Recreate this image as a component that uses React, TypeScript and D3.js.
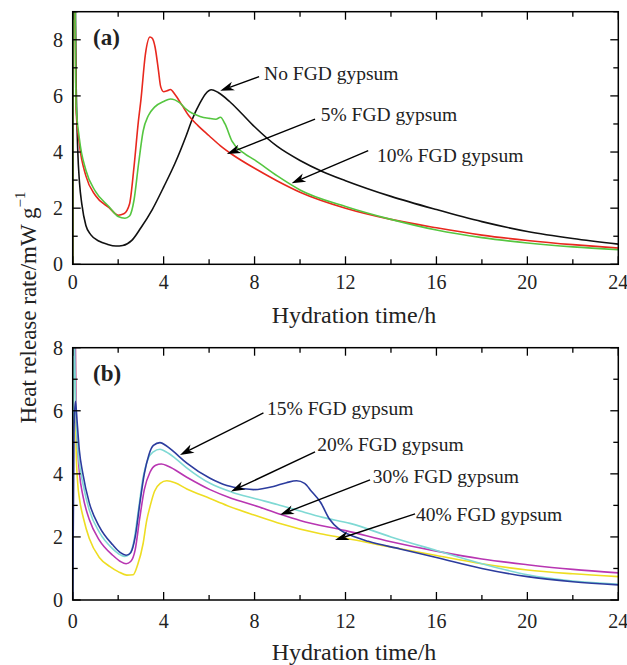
import React from "react";
import * as d3 from "d3";

type Pt = [number, number];

// ---------- Panel (a) data ----------
const noFGD: Pt[] = [[0,0],[0.06,14],[0.15,6.5],[0.22,4.1],[0.3,2.9],[0.4,2.15],[0.58,1.38],[0.8,1.05],[1.17,0.82],[1.5,0.72],[1.9,0.65],[2.2,0.67],[2.6,0.85],[3.0,1.3],[3.5,1.95],[4.0,2.75],[4.5,3.6],[5.0,4.6],[5.25,5.15],[5.6,5.75],[5.85,6.08],[6.1,6.22],[6.4,6.12],[6.9,5.8],[7.4,5.4],[8.0,4.9],[9,4.2],[10,3.7],[11,3.3],[12,2.98],[14,2.42],[16,1.95],[18,1.52],[20,1.17],[22,0.92],[24,0.72]];
const fgd5: Pt[] = [[0,0],[0.05,14],[0.15,5.5],[0.29,4.3],[0.58,3.15],[1.0,2.45],[1.6,2.02],[2.0,1.75],[2.25,1.8],[2.5,2.15],[2.7,3.5],[2.89,5.1],[3.0,5.85],[3.2,7.5],[3.4,8.1],[3.5,8.05],[3.62,7.75],[3.77,6.92],[3.87,6.33],[4.0,6.15],[4.15,6.18],[4.3,6.23],[4.5,6.05],[4.8,5.68],[5.1,5.3],[5.5,4.95],[6.0,4.58],[6.5,4.22],[7.0,3.92],[8.0,3.42],[9,2.97],[10,2.57],[12,2.0],[14,1.6],[16,1.3],[18,1.04],[20,0.85],[22,0.7],[24,0.58]];
const fgd10: Pt[] = [[0,0],[0.05,14],[0.15,5.7],[0.29,4.5],[0.58,3.35],[1.0,2.6],[1.6,2.05],[2.0,1.7],[2.3,1.64],[2.5,1.72],[2.7,2.3],[2.9,3.6],[3.1,4.75],[3.33,5.3],[3.6,5.6],[4.0,5.8],[4.3,5.89],[4.7,5.76],[5.0,5.52],[5.6,5.27],[6.0,5.2],[6.3,5.17],[6.5,5.24],[6.7,5.0],[7.0,4.4],[7.5,3.98],[8.0,3.72],[9,3.15],[10,2.65],[12,2.06],[14,1.6],[16,1.22],[18,0.95],[20,0.76],[22,0.62],[24,0.52]];

// ---------- Panel (b) data ----------
const fgd15: Pt[] = [[0,0],[0.06,5.5],[0.12,6.3],[0.2,5.6],[0.29,4.76],[0.44,4.03],[0.73,3.08],[1.17,2.33],[1.76,1.75],[2.1,1.5],[2.35,1.42],[2.55,1.5],[2.75,2.0],[2.96,3.1],[3.15,4.0],[3.35,4.6],[3.55,4.9],[3.84,4.99],[4.1,4.9],[4.43,4.71],[5.02,4.34],[6.04,3.86],[6.78,3.63],[7.5,3.53],[7.95,3.5],[8.83,3.6],[9.4,3.72],[9.85,3.78],[10.2,3.7],[10.5,3.45],[10.9,3.1],[11.3,2.56],[11.76,2.22],[12.2,2.06],[13,1.86],[14.4,1.62],[16,1.35],[18,1.0],[20,0.74],[22,0.58],[24,0.48]];
const fgd20: Pt[] = [[0,0],[0.06,9],[0.12,6.5],[0.2,5.0],[0.29,4.35],[0.44,3.72],[0.73,2.85],[1.17,2.15],[1.76,1.62],[2.1,1.43],[2.3,1.38],[2.5,1.45],[2.7,1.9],[2.9,2.9],[3.1,3.9],[3.3,4.45],[3.55,4.7],[3.84,4.78],[4.1,4.7],[4.5,4.5],[5.0,4.2],[6.04,3.7],[7.0,3.42],[8.0,3.22],[9,3.03],[10,2.82],[11,2.62],[12.2,2.43],[14,2.0],[16,1.57],[18,1.15],[20,0.8],[22,0.6],[24,0.5]];
const fgd30: Pt[] = [[0,0],[0.06,12],[0.15,6.0],[0.22,4.8],[0.3,4.0],[0.45,3.3],[0.73,2.55],[1.17,1.9],[1.76,1.42],[2.1,1.22],[2.35,1.15],[2.55,1.22],[2.75,1.6],[2.95,2.6],[3.15,3.5],[3.4,4.05],[3.65,4.27],[3.9,4.31],[4.2,4.24],[5.0,3.9],[6.04,3.5],[7,3.22],[8,3.0],[9.12,2.72],[10,2.52],[12,2.2],[14,1.85],[16,1.55],[18,1.3],[20,1.12],[22,0.97],[24,0.86]];
const fgd40: Pt[] = [[0,0],[0.06,12],[0.15,4.8],[0.22,3.7],[0.3,3.2],[0.47,2.6],[0.73,1.95],[1.17,1.35],[1.64,1.06],[2.0,0.9],[2.38,0.79],[2.66,0.8],[2.85,1.1],[3.1,1.8],[3.25,2.5],[3.4,2.96],[3.6,3.45],[3.85,3.7],[4.14,3.78],[4.5,3.72],[5.02,3.52],[6.04,3.22],[6.78,3.0],[7.95,2.7],[9,2.45],[10.9,2.1],[12,1.96],[14,1.68],[16,1.41],[18,1.15],[20,0.95],[22,0.83],[24,0.74]];

const xTicks = [0, 4, 8, 12, 16, 20, 24];
const xMinor = [2, 6, 10, 14, 18, 22];
const yTicksA = [0, 2, 4, 6, 8];
const yMinorA = [1, 3, 5, 7, 9];
const yTicksB = [0, 2, 4, 6, 8];
const yMinorB = [1, 3, 5, 7];

// annotations: label, text anchor [t, v], arrow start [t, v], arrow tip [t, v]
const annotA = [
  { label: "No FGD gypsum", text: [8.42, 6.57], from: [8.2, 6.69], to: [6.49, 6.18] },
  { label: "5% FGD gypsum", text: [10.91, 5.11], from: [10.66, 5.17], to: [6.78, 3.93] },
  { label: "10% FGD gypsum", text: [13.39, 3.66], from: [13.0, 4.05], to: [9.63, 2.89] },
];
const annotB = [
  { label: "15% FGD gypsum", text: [8.55, 5.87], from: [8.39, 5.93], to: [4.72, 4.6] },
  { label: "20% FGD gypsum", text: [10.76, 4.71], from: [10.66, 4.7], to: [6.96, 3.44] },
  { label: "30% FGD gypsum", text: [13.2, 3.7], from: [13.08, 3.81], to: [9.12, 2.7] },
  { label: "40% FGD gypsum", text: [15.1, 2.49], from: [15.06, 2.73], to: [11.54, 1.9] },
];

const seriesA = [
  { data: noFGD, color: "#111111" },
  { data: fgd5, color: "#e8281e" },
  { data: fgd10, color: "#55c640" },
];
const seriesB = [
  { data: fgd40, color: "#eedd22" },
  { data: fgd30, color: "#b836b2" },
  { data: fgd20, color: "#7fd9d4" },
  { data: fgd15, color: "#2c3c9e" },
];

const FONT = "'Liberation Serif', 'Times New Roman', serif";
const L = 72.7, R = 618.3;

function Arrow({ x1, y1, x2, y2 }: { x1: number; y1: number; x2: number; y2: number }) {
  const dx = x2 - x1, dy = y2 - y1;
  const len = Math.hypot(dx, dy);
  const ux = dx / len, uy = dy / len;
  const px = -uy, py = ux;
  const hl = 14, hw = 4.5, notch = 10;
  const bx = x2 - ux * hl, by = y2 - uy * hl;
  const nx = x2 - ux * notch, ny = y2 - uy * notch;
  const head = `M${x2},${y2} L${bx + px * hw},${by + py * hw} L${nx},${ny} L${bx - px * hw},${by - py * hw} Z`;
  return (
    <g>
      <line x1={x1} y1={y1} x2={nx} y2={ny} stroke="#000" strokeWidth={1.4} />
      <path d={head} fill="#000" />
    </g>
  );
}

function Panel({ top, bottom, yMax, yTicks, yMinor, series, annots, label, id, tickOffset, titleY }: any) {
  const x = d3.scaleLinear().domain([0, 24]).range([L, R]);
  const y = d3.scaleLinear().domain([0, yMax]).range([bottom, top]);
  const line = d3.line<Pt>().x((d) => x(d[0])).y((d) => y(d[1])).curve(d3.curveMonotoneX);
  const maj = 8, mn = 5;
  return (
    <g>
      <defs>
        <clipPath id={id}>
          <rect x={L} y={top} width={R - L} height={bottom - top} />
        </clipPath>
      </defs>
      <g clipPath={`url(#${id})`}>
        {series.map((s: any, i: number) => (
          <path key={i} d={line(s.data) || ""} fill="none" stroke={s.color} strokeWidth={1.6} />
        ))}
      </g>
      <rect x={L} y={top} width={R - L} height={bottom - top} fill="none" stroke="#000" strokeWidth={1.5} />
      {xTicks.map((t) => (
        <g key={"xt" + t}>
          <line x1={x(t)} x2={x(t)} y1={bottom} y2={bottom - maj} stroke="#000" strokeWidth={1.3} />
          <line x1={x(t)} x2={x(t)} y1={top} y2={top + maj} stroke="#000" strokeWidth={1.3} />
          <text x={x(t)} y={bottom + tickOffset} textAnchor="middle" fontSize={20} fontFamily={FONT} fill="#222">{t}</text>
        </g>
      ))}
      {xMinor.map((t) => (
        <g key={"xm" + t}>
          <line x1={x(t)} x2={x(t)} y1={bottom} y2={bottom - mn} stroke="#000" strokeWidth={1.3} />
          <line x1={x(t)} x2={x(t)} y1={top} y2={top + mn} stroke="#000" strokeWidth={1.3} />
        </g>
      ))}
      {yTicks.map((v: number) => (
        <g key={"yt" + v}>
          <line x1={L} x2={L + maj} y1={y(v)} y2={y(v)} stroke="#000" strokeWidth={1.3} />
          <line x1={R} x2={R - maj} y1={y(v)} y2={y(v)} stroke="#000" strokeWidth={1.3} />
          <text x={63} y={y(v) + 7} textAnchor="end" fontSize={20} fontFamily={FONT} fill="#222">{v}</text>
        </g>
      ))}
      {yMinor.map((v: number) => (
        <g key={"ym" + v}>
          <line x1={L} x2={L + mn} y1={y(v)} y2={y(v)} stroke="#000" strokeWidth={1.3} />
          <line x1={R} x2={R - mn} y1={y(v)} y2={y(v)} stroke="#000" strokeWidth={1.3} />
        </g>
      ))}
      {annots.map((a: any, i: number) => (
        <g key={"an" + i}>
          <Arrow x1={x(a.from[0])} y1={y(a.from[1])} x2={x(a.to[0])} y2={y(a.to[1])} />
          <text x={x(a.text[0])} y={y(a.text[1])} fontSize={19.5} fontFamily={FONT} fill="#222">{a.label}</text>
        </g>
      ))}
      <text x={93} y={top + 33} fontSize={23} fontWeight="bold" fontFamily={FONT} fill="#222">{label}</text>
      <text x={354} y={titleY} textAnchor="middle" fontSize={24} fontFamily={FONT} fill="#222">Hydration time/h</text>
    </g>
  );
}

export default function App() {
  return (
    <svg width={627} height={665} style={{ position: "absolute", left: 0, top: 0, background: "#fff" }}>
      <rect x={0} y={0} width={627} height={665} fill="#fff" />
      <Panel top={11.7} bottom={264.3} yMax={9} yTicks={yTicksA} yMinor={yMinorA} series={seriesA} annots={annotA} label="(a)" id="clipA" tickOffset={25} titleY={323} />
      <Panel top={347.7} bottom={600} yMax={8} yTicks={yTicksB} yMinor={yMinorB} series={seriesB} annots={annotB} label="(b)" id="clipB" tickOffset={28} titleY={660} />
      <text transform="translate(36,307.5) rotate(-90)" textAnchor="middle" fontSize={23} fontFamily={FONT} fill="#222">
        Heat release rate/mW g<tspan fontSize={15} dy={-11}>−1</tspan>
      </text>
    </svg>
  );
}
